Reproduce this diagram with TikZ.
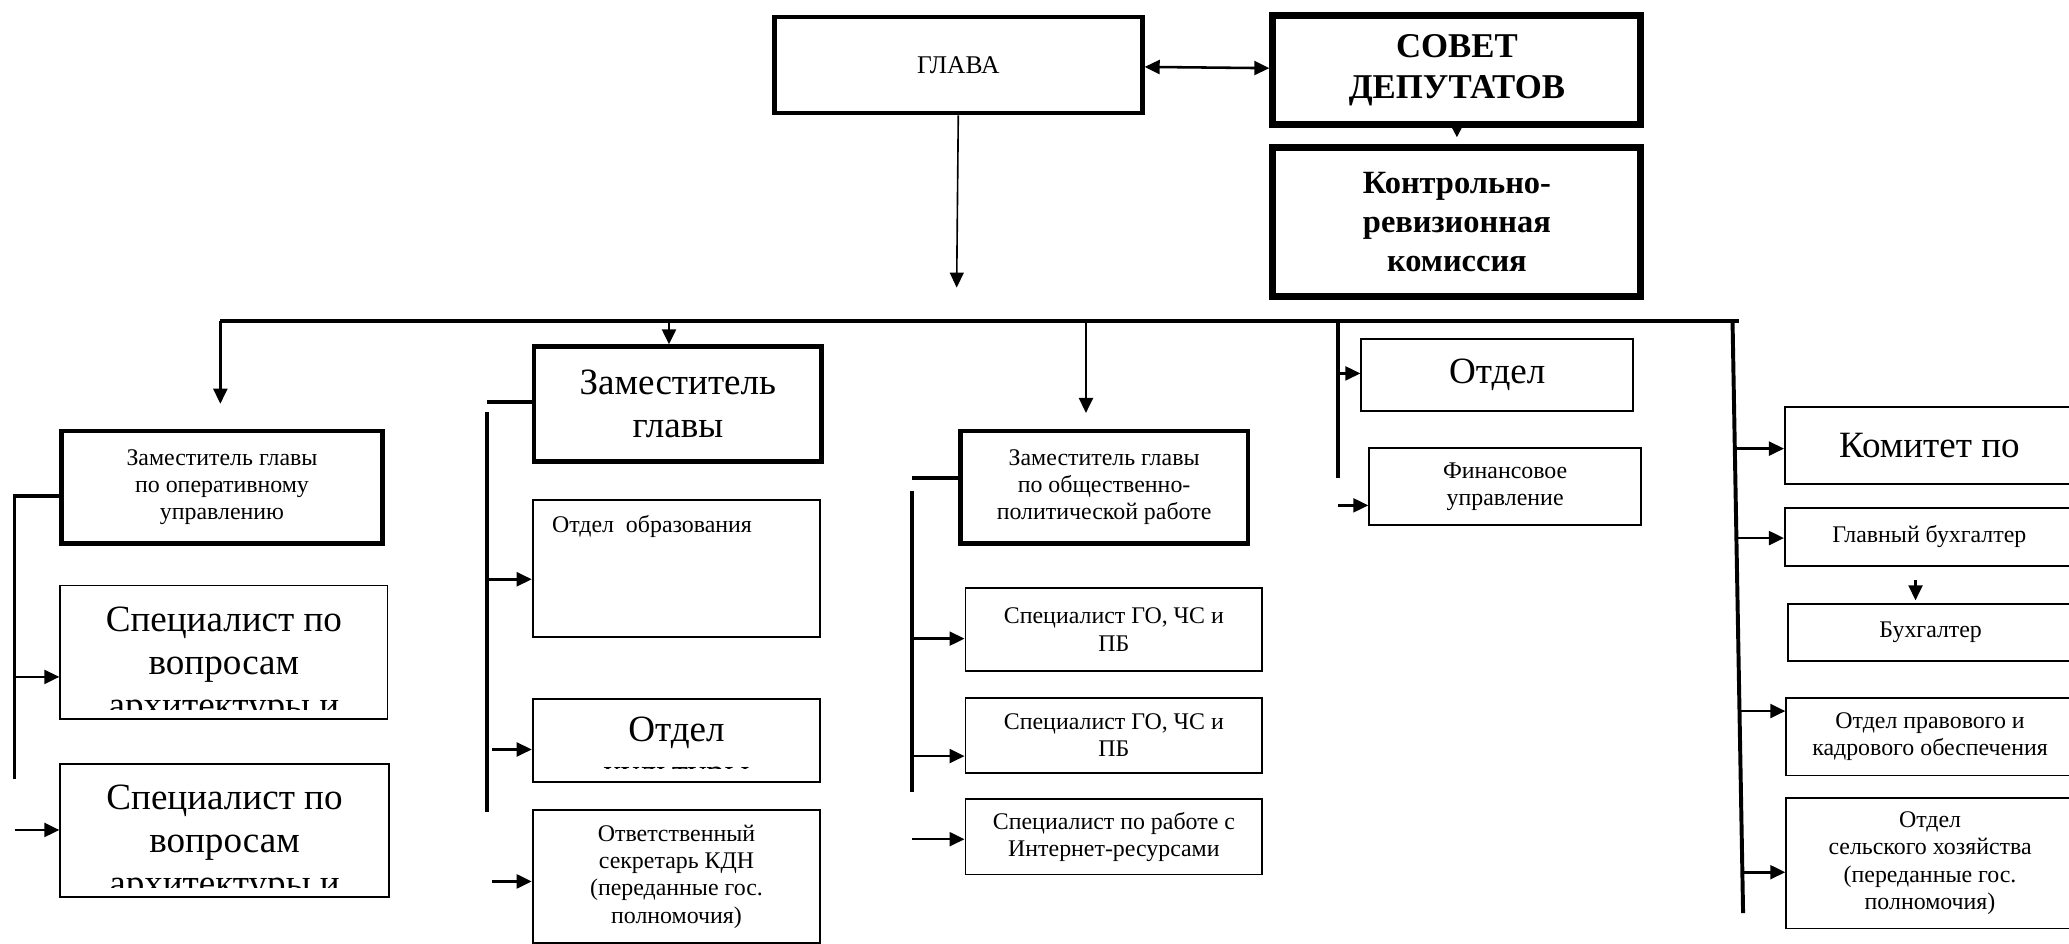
\documentclass[tikz,border=0pt]{standalone}
\usepackage{fontspec}
\setmainfont{Liberation Serif}
\usetikzlibrary{arrows.meta,calc,positioning}

\begin{document}
\begin{tikzpicture}[x=0.02cm, y=-0.02cm,
  >={Triangle[length=6.5pt,width=6pt]},
  box/.style={draw, anchor=north west, inner sep=0pt, align=center, line width=0.8pt},
  boldbox/.style={box, line width=2pt},
  heavybox/.style={box, line width=3pt, font=\bfseries\fontsize{15}{18}\selectfont},
  small/.style={font=\fontsize{10.3}{11.8}\selectfont},
  big/.style={font=\fontsize{16}{18.5}\selectfont},
  bus/.style={line width=1.7pt},
  feed/.style={->, line width=1.1pt},
  cut/.style 2 args={path picture={
      \clip ([yshift=#2]path picture bounding box.south west) rectangle (path picture bounding box.north east);
      \node[anchor=north, align=center, inner sep=0pt, big] at ([yshift=-0.2cm]path picture bounding box.north) {#1};}},
]
  \useasboundingbox (0,0) rectangle (1568,715);

  % top
  \node[boldbox, minimum width=5.58cm, minimum height=1.46cm, font=\fontsize{11}{13}\selectfont](GL) at (585,11) {ГЛАВА};
  \node[heavybox, minimum width=5.58cm, minimum height=1.66cm](SD) at (962,9) {СОВЕТ\\ДЕПУТАТОВ};
  \node[heavybox, minimum width=5.58cm, minimum height=2.26cm, font=\bfseries\fontsize{14}{16.8}\selectfont](KRK) at (962,109) {Контрольно-\\ревизионная\\комиссия};

  \coordinate (GT) at (725,218);
  \coordinate (BL) at (167,243);
  \coordinate (BR) at (1318,243);
  \draw[bus] (BL) -- (BR);

  % first deputy
  \node[boldbox, small, minimum width=4.86cm, minimum height=1.70cm](ZO) at (45,325) {Заместитель главы\\по оперативному\\управлению};
  \node[box, minimum width=4.96cm, minimum height=2.02cm, cut={Специалист по\\вопросам\\архитектуры и}{0.14cm}](SA1) at (45,443) {};
  \node[box, minimum width=4.98cm, minimum height=2.02cm, cut={Специалист по\\вопросам\\архитектуры и}{0.14cm}](SA2) at (45,578) {};
  \coordinate (V1) at (11,376);
  \coordinate (V1e) at (11,590);
  \coordinate (A11) at (11,513);
  \coordinate (A12) at (11,629);

  % second deputy
  \coordinate (T2) at (507,243);
  \node[boldbox, big, minimum width=4.36cm, minimum height=1.74cm](ZG) at (403,261) {Заместитель\\главы};
  \node[box, minimum width=4.36cm, minimum height=2.08cm](OO) at (403,378) {};
  \node[small, anchor=north west, inner sep=0pt](OOt) at ([xshift=0.3cm,yshift=-0.24cm]OO.north west) {Отдел\ \ образования};
  \node[box, minimum width=4.36cm, minimum height=1.26cm, cut={Отдел\\культуры}{0.21cm}](OK) at (403,529) {};
  \node[box, small, minimum width=4.36cm, minimum height=2.02cm](KDN) at (403,613) {Ответственный\\секретарь КДН\\(переданные гос.\\полномочия)};
  \coordinate (V2s) at (369,305);
  \coordinate (V2) at (369,312);
  \coordinate (V2e) at (369,615);
  \coordinate (A21) at (369,439);
  \coordinate (A22) at (373,568);
  \coordinate (A23) at (373,668);

  % third deputy
  \coordinate (T3) at (823,243);
  \node[boldbox, small, minimum width=4.36cm, minimum height=1.70cm](ZP) at (726,325) {Заместитель главы\\по общественно-\\политической работе};
  \node[box, small, minimum width=4.5cm, minimum height=1.26cm](GO1) at (731,445) {Специалист ГО, ЧС и\\ПБ};
  \node[box, small, minimum width=4.5cm, minimum height=1.14cm](GO2) at (731,528) {Специалист ГО, ЧС и\\ПБ};
  \node[box, small, minimum width=4.5cm, minimum height=1.14cm](IR) at (731,605) {Специалист по работе с\\Интернет-ресурсами};
  \coordinate (V3s) at (691,362);
  \coordinate (V3) at (691,372);
  \coordinate (V3e) at (691,600);
  \coordinate (A31) at (691,484);
  \coordinate (A32) at (691,573);
  \coordinate (A33) at (691,636);

  % departments
  \coordinate (T4) at (1014,243);
  \coordinate (T4e) at (1014,362);
  \node[box, big, minimum width=4.12cm, minimum height=1.10cm](OT) at (1031,256) {Отдел};
  \node[box, small, minimum width=4.12cm, minimum height=1.16cm](FU) at (1037,339) {Финансовое\\управление};
  \coordinate (A41) at (1014,283);
  \coordinate (A42) at (1014,383);

  % right column
  \coordinate (T5) at (1313,243);
  \coordinate (T5e) at (1321,692);
  \node[box, big, minimum width=4.38cm, minimum height=1.16cm](KP) at (1352,308) {Комитет по};
  \node[box, small, minimum width=4.38cm, minimum height=0.88cm](GB) at (1352,384) {Главный бухгалтер};
  \node[box, small, minimum width=4.34cm, minimum height=0.86cm](BU) at (1354,457) {Бухгалтер};
  \node[box, small, minimum width=4.36cm, minimum height=1.18cm](PK) at (1353,528) {Отдел правового и\\кадрового обеспечения};
  \node[box, small, minimum width=4.36cm, minimum height=1.98cm](SH) at (1353,604) {Отдел\\сельского хозяйства\\(переданные гос.\\полномочия)};

  \path[<->, line width=1.1pt]
  (GL) edge (SD);
  \draw[->, line width=0.8pt, shorten >=0.1cm, >={Triangle[length=5pt,width=5pt]}] (SD) -- (KRK);
  \draw[->, line width=0.7pt] (GL.south) -- (GT);

  \draw[feed, shorten >=0.38cm] (BL) -- (BL |- ZO.north);
  \draw[feed] (T2) -- (T2 |- ZG.north);
  \draw[feed, shorten >=0.24cm] (T3) -- (T3 |- ZP.north);
  \draw[bus] (T4) -- (T4e);
  \draw[bus] (T5) -- (T5e);

  \draw[bus] (ZO.west |- V1) -- (V1) -- (V1e);
  \draw[bus] (ZG.west |- V2s) -- (V2s);
  \draw[bus] (V2) -- (V2e);
  \draw[bus] (ZP.west |- V3s) -- (V3s);
  \draw[bus] (V3) -- (V3e);

  \path[feed]
  (A11) edge (A11 -| SA1.west)
  (A12) edge (A12 -| SA2.west)
  (A21) edge (A21 -| OO.west)
  (A22) edge (A22 -| OK.west)
  (A23) edge (A23 -| KDN.west)
  (A31) edge (A31 -| GO1.west)
  (A32) edge (A32 -| GO2.west)
  (A33) edge (A33 -| IR.west)
  (A41) edge (A41 -| OT.west)
  (A42) edge (A42 -| FU.west);

  \coordinate (A51) at ($(T5)!0.216!(T5e)$);
  \coordinate (A52) at ($(T5)!0.367!(T5e)$);
  \coordinate (A53) at ($(T5)!0.659!(T5e)$);
  \coordinate (A54) at ($(T5)!0.931!(T5e)$);
  \path[feed]
  (A51) edge (A51 -| KP.west)
  (A52) edge (A52 -| GB.west)
  (A53) edge (A53 -| PK.west)
  (A54) edge (A54 -| SH.west);
  \draw[feed, shorten <=0.2cm, shorten >=0.04cm] ([xshift=-0.21cm]GB.south) -- ([xshift=-0.21cm]GB.south |- BU.north);
\end{tikzpicture}
\end{document}
